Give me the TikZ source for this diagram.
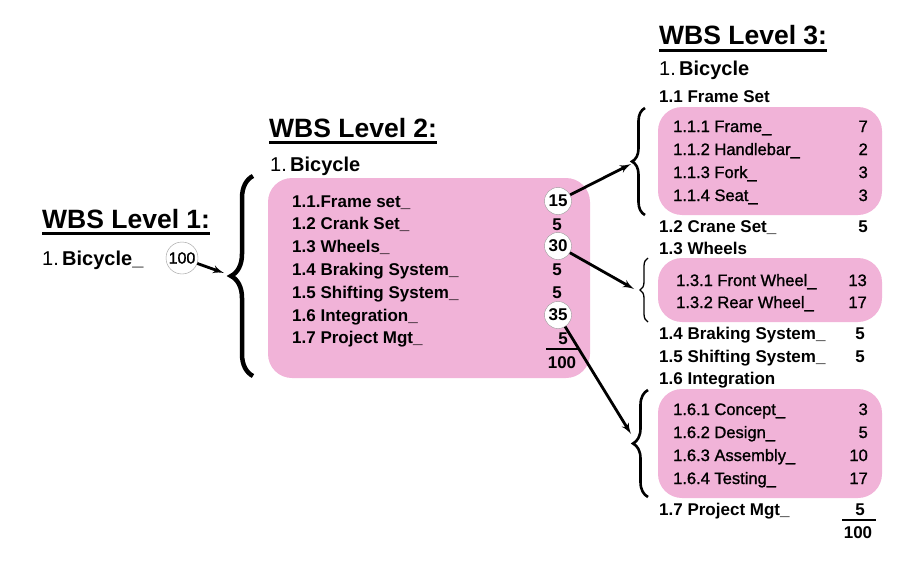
\documentclass[tikz,border=0pt]{standalone}
\usepackage{fontspec}
\setmainfont{Liberation Sans}
\newfontfamily\medfont{Liberation Sans}[FakeBold=1.2]
\usetikzlibrary{arrows,calc,decorations.pathreplacing}
\definecolor{wbspink}{HTML}{F1B3D8}
\tikzset{
    heading/.style = {anchor=base west, inner sep=0pt,
        font=\fontsize{26.5}{30}\selectfont\bfseries},
    title/.style = {anchor=base west, inner sep=0pt, font=\fontsize{20}{24}\selectfont},
    item/.style = {anchor=base west, inner sep=0pt, font=\fontsize{17}{20}\selectfont\bfseries},
    subitem/.style = {anchor=base west, inner sep=0pt, font=\fontsize{16.5}{20}\medfont},
    num/.style = {anchor=base, inner sep=0pt, font=\fontsize{17}{20}\selectfont\bfseries},
    rnum/.style = {anchor=base east, inner sep=0pt, font=\fontsize{16.5}{20}\medfont},
    sum/.style = {draw=gray!80, fill=white, circle, thin, minimum size=27pt,
        inner sep=0pt, font=\fontsize{17}{20}\selectfont\bfseries},
    box/.style = {fill=wbspink, rounded corners=24pt},
    lbrace/.style = {draw, decorate, decoration={brace, amplitude=#1}, line width=2.6pt},
    arrow/.style = {draw, ->, line width=2.8pt},
    uline/.style = {draw, line width=3pt}
}
\begin{document}
\begin{tikzpicture}[x=1pt, y=-1pt, >=latex']
    \useasboundingbox (0,0) rectangle (906,562);
    % level 1
    \node[heading] (head1) at (42,228) {WBS Level 1:};
    \draw[uline] ($(head1.base west)+(0,5)$) -- ($(head1.base east)+(0,5)$);
    \node[title] (bike1) at (42,265) {1.\,{\bfseries Bicycle\_}};
    \node[sum, minimum size=32pt, font=\fontsize{16}{20}\medfont] (tot1) at (182,258) {100};
    \draw[lbrace=22, line width=4.5pt] (253,376) -- (253,176);
    \coordinate (tip0) at (224,273);
    \draw[arrow] (tot1) -- (tip0);

    % level 2
    \node[heading] (head2) at (269,137) {WBS Level 2:};
    \draw[uline] ($(head2.base west)+(0,5)$) -- ($(head2.base east)+(0,5)$);
    \node[title] (bike2) at (270,171) {1.\,{\bfseries Bicycle}};
    \fill[box] (268,178) rectangle (590,378);
    \foreach \lab [count=\i from 0] in {1.1.Frame set\_, 1.2 Crank Set\_, 1.3 Wheels\_,
        1.4 Braking System\_, 1.5 Shifting System\_, 1.6 Integration\_, 1.7 Project Mgt\_}{
        \node[item] (lvtwo\i) at (292,{207+22.8*\i}) {\lab};
    }
    \node[sum] (c15) at (558,201) {15};
    \node[num] (n12) at (557,230) {5};
    \node[sum] (c30) at (558,246) {30};
    \node[num] (n14) at (557,275) {5};
    \node[num] (n15) at (557,298) {5};
    \node[sum] (c35) at (558,315) {35};
    \node[num] (n17) at (563,344) {5};
    \draw[line width=1.5pt] (546,349) -- (578,349);
    \node[num] (tot2) at (562,368) {100};

    % level 3
    \node[heading] (head3) at (659,45) {WBS Level 3:};
    \draw[uline] ($(head3.base west)+(0,5)$) -- ($(head3.base east)+(0,5)$);
    \node[title] (bike3) at (659,75) {1.\,{\bfseries Bicycle}};
    \node[item] (fs) at (659,102) {1.1 Frame Set};
    \fill[box] (658,107) rectangle (882,215);
    \foreach \lab/\val [count=\i from 0] in {1.1.1 Frame\_/7, 1.1.2 Handlebar\_/2,
        1.1.3 Fork\_/3, 1.1.4 Seat\_/3}{
        \node[subitem] (fsa\i) at (673,{132+23*\i}) {\lab};
        \node[rnum] (fsv\i) at (868,{132+23*\i}) {\val};
    }
    \node[item] (cs) at (659,232) {1.2 Crane Set\_};
    \node[num, anchor=base east] (csv) at (868,232) {5};
    \node[item] (wh) at (659,254) {1.3 Wheels};
    \fill[box] (658,258) rectangle (882,322);
    \foreach \lab/\val [count=\i from 0] in {1.3.1 Front Wheel\_/13, 1.3.2 Rear Wheel\_/17}{
        \node[subitem] (wha\i) at (676,{286+22*\i}) {\lab};
        \node[rnum] (whv\i) at (867,{286+22*\i}) {\val};
    }
    \node[item] (bs) at (659,339) {1.4 Braking System\_};
    \node[num, anchor=base east] (bsv) at (865,339) {5};
    \node[item] (ss) at (659,362) {1.5 Shifting System\_};
    \node[num, anchor=base east] (ssv) at (865,362) {5};
    \node[item] (ig) at (659,384) {1.6 Integration};
    \fill[box] (658,389) rectangle (882,498);
    \foreach \lab/\val [count=\i from 0] in {1.6.1 Concept\_/3, 1.6.2 Design\_/5,
        1.6.3 Assembly\_/10, 1.6.4 Testing\_/17}{
        \node[subitem] (iga\i) at (673,{415+23*\i}) {\lab};
        \node[rnum] (igv\i) at (868,{415+23*\i}) {\val};
    }
    \node[item] (pm) at (659,515) {1.7 Project Mgt\_};
    \node[num] (pmv) at (860,515) {5};
    \draw[line width=1.5pt] (842,520) -- (876,520);
    \node[num] (tot3) at (858,538) {100};

    % braces and arrows to level 3
    \draw[lbrace=13] (645,215) -- (645,108);
    \draw[lbrace=8, line width=1.3pt] (648,322) -- (648,258);
    \draw[lbrace=15] (648,497) -- (648,390);
    \coordinate (tip1) at (631,164);
    \coordinate (tip2) at (634,289);
    \coordinate (tip3) at (631,434);
    \draw[arrow] (c15) -- (tip1);
    \draw[arrow] (c30) -- (tip2);
    \draw[arrow] (c35) -- (tip3);
\end{tikzpicture}
\end{document}
